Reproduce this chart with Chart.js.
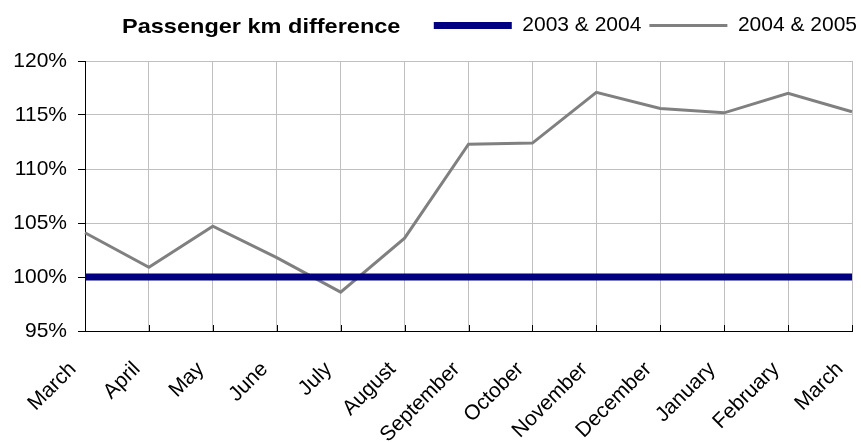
<!DOCTYPE html>
<html>
<head>
<meta charset="utf-8">
<script src="https://cdn.jsdelivr.net/npm/chart.js@4/dist/chart.umd.min.js"></script>
<style>
html,body{margin:0;padding:0;background:#fff;}
canvas{display:block;}
</style>
</head>
<body>
<canvas id="c" width="861" height="442"></canvas>
<script>
const chartTitle = 'Passenger km difference';
const months = ['March','April','May','June','July','August','September','October','November','December','January','February','March'];
const seriesNames = ['2003 & 2004', '2004 & 2005'];
const values0304 = [100,100,100,100,100,100,100,100,100,100,100,100,100];
const values0405 = [104.1,100.9,104.7,101.8,98.6,103.6,112.3,112.4,117.1,115.6,115.2,117.0,115.3];
const yMin = 95, yMax = 120, yStep = 5;

Chart.defaults.font.family = '"Liberation Sans", Arial, sans-serif';
Chart.defaults.color = '#000';

const sideTitle = {
  id: 'sideTitle',
  afterDraw(chart) {
    const ctx = chart.ctx;
    ctx.save();
    ctx.font = 'bold 21px "Liberation Sans", Arial, sans-serif';
    ctx.fillStyle = '#000';
    ctx.textBaseline = 'middle';
    ctx.translate(122, 27);
    ctx.scale(1.12, 1);
    ctx.fillText(chartTitle, 0, 0);
    ctx.restore();
  }
};

const innerTicks = {
  id: 'innerTicks',
  afterDraw(chart) {
    const s = chart.scales.x, a = chart.chartArea, ctx = chart.ctx;
    ctx.save();
    ctx.strokeStyle = '#000';
    ctx.lineWidth = 1;
    ctx.beginPath();
    for (let i = 0; i < s.ticks.length; i++) {
      const x = Math.round(s.getPixelForTick(i)) + 0.5;
      ctx.moveTo(x, a.bottom);
      ctx.lineTo(x, a.bottom - 6);
    }
    ctx.stroke();
    ctx.restore();
  }
};

new Chart(document.getElementById('c'), {
  type: 'line',
  data: {
    labels: months,
    datasets: [
      {
        label: seriesNames[0],
        data: values0304,
        borderColor: '#000080',
        backgroundColor: '#000080',
        borderWidth: 7,
        borderCapStyle: 'round',
        pointRadius: 0,
        tension: 0,
        clip: 0
      },
      {
        label: seriesNames[1],
        data: values0405,
        borderColor: '#808080',
        backgroundColor: '#808080',
        borderWidth: 3,
        borderCapStyle: 'butt',
        pointRadius: 0,
        tension: 0
      }
    ]
  },
  options: {
    responsive: false,
    animation: false,
    layout: { padding: { top: 7, right: -4, bottom: 0, left: 0 } },
    plugins: {
      legend: {
        position: 'top',
        align: 'end',
        labels: {
          usePointStyle: true,
          pointStyle: 'line',
          pointStyleWidth: 78,
          padding: 8,
          color: '#000',
          font: { size: 21 }
        }
      },
      subtitle: {
        display: true,
        text: '',
        weight: 500,
        position: 'top',
        padding: { top: 15, bottom: 0 },
        font: { size: 1, lineHeight: '0px' }
      },
      tooltip: { enabled: false }
    },
    scales: {
      x: {
        grid: { color: '#c0c0c0', tickLength: 6, tickColor: 'rgba(0,0,0,0)' },
        border: { color: '#000', width: 1 },
        ticks: {
          autoSkip: false,
          maxRotation: 45,
          minRotation: 45,
          labelOffset: -12,
          padding: 20,
          color: '#000',
          font: { size: 21 }
        },
        afterFit(s) { s.height = 111; s.paddingLeft = 0; s.paddingRight = 9; }
      },
      y: {
        min: yMin,
        max: yMax,
        grid: { color: '#c0c0c0', tickLength: 7, tickColor: '#000' },
        border: { color: '#000', width: 1 },
        ticks: {
          stepSize: yStep,
          padding: 11,
          color: '#000',
          font: { size: 21 },
          callback: v => v + '%'
        },
        afterFit(s) { s.width = 85; }
      }
    }
  },
  plugins: [sideTitle, innerTicks]
});
</script>
</body>
</html>
